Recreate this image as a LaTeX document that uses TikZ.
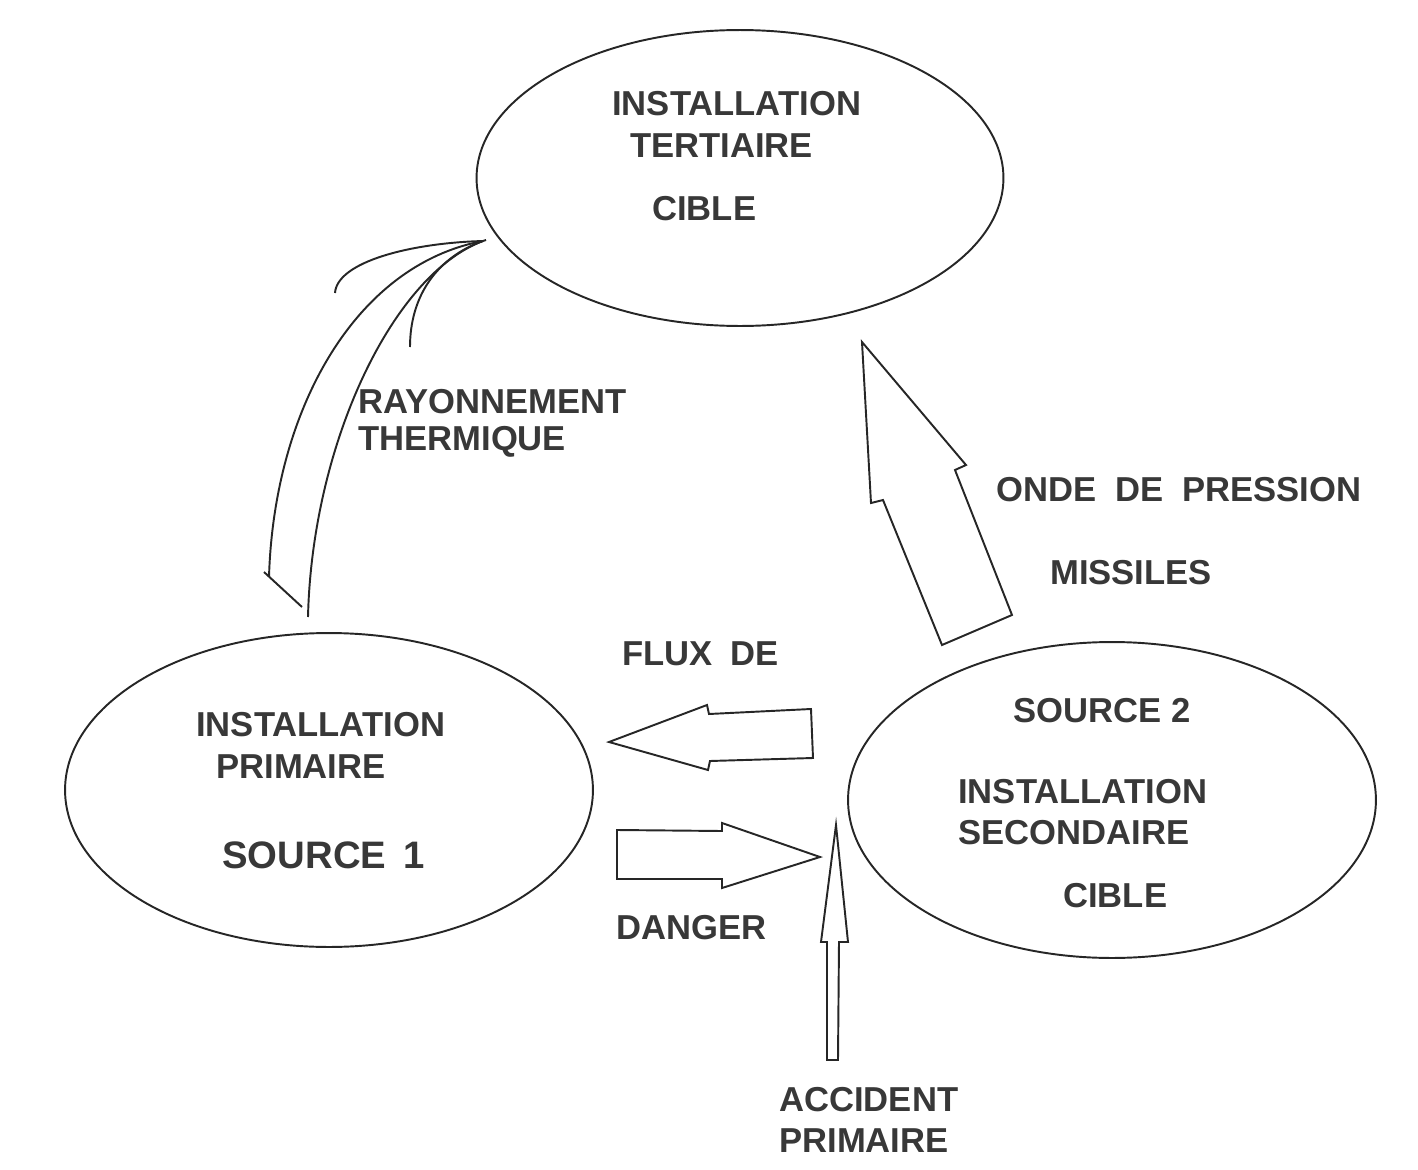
\documentclass[tikz,border=0pt]{standalone}
\usepackage{fontspec}
\setmainfont{Liberation Sans}
\usetikzlibrary{shapes.geometric}
\begin{document}
\begin{tikzpicture}[x=0.02cm,y=-0.02cm,
  ink/.style={draw=black!85,line width=1.1pt,line join=miter},
  ell/.style={ellipse,draw=black!85,line width=1.1pt,inner sep=0},
  lbl/.style={font=\fontsize{19.7}{22}\selectfont\bfseries,text=black!78,anchor=west,inner sep=0},
  biglbl/.style={lbl,font=\fontsize{21.8}{24}\selectfont\bfseries}]
\useasboundingbox (0,0) rectangle (1418,1170);
% ellipses
\node[ell,minimum width=10.54cm,minimum height=5.92cm] (tert) at (740,178) {};
\node[ell,minimum width=10.56cm,minimum height=6.28cm] (prim) at (329,790) {};
\node[ell,minimum width=10.56cm,minimum height=6.32cm] (sec) at (1112,800) {};
% texts top
\node[lbl] (t1) at (612,104) {INSTALLATION};
\node[lbl] (t2) at (630,146) {TERTIAIRE};
\node[lbl] (t3) at (652,209) {CIBLE};
% texts left
\node[lbl] (p1) at (196,725) {INSTALLATION};
\node[lbl] (p2) at (216,767) {PRIMAIRE};
\node[biglbl] (p3) at (222,855) {SOURCE\hspace{0.45em}1};
% texts right
\node[lbl] (s1) at (1013,711) {SOURCE 2};
\node[lbl] (s2) at (958,792) {INSTALLATION};
\node[lbl] (s3) at (958,833) {SECONDAIRE};
\node[lbl] (s4) at (1063,896) {CIBLE};
% other labels
\node[lbl] (r1) at (358,402) {RAYONNEMENT};
\node[lbl] (r2) at (358,442) {THERMIQUE};
\node[lbl] (o1) at (996,490) {ONDE\hspace{0.55em}DE\hspace{0.55em}PRESSION};
\node[lbl] (o2) at (1050,573) {MISSILES};
\node[lbl] (f1) at (622,654) {FLUX\hspace{0.5em}DE};
\node[lbl] (d1) at (616,928) {DANGER};
\node[lbl] (a1) at (779,1100) {ACCIDENT};
\node[lbl] (a2) at (779,1141) {PRIMAIRE};
% block arrows
\draw[ink] (609,742) -- (707,705) -- (709,714) -- (811,709) -- (813,758) -- (710,761) -- (708,770) -- cycle;
\draw[ink] (617,830) -- (722,831) -- (722,823) -- (820,857) -- (722,888) -- (722,879) -- (617,879) -- cycle;
\draw[ink] (836,825) -- (848,942) -- (839,942) -- (838,1060) -- (827,1060) -- (827,942) -- (821,942) -- cycle;
\draw[ink] (862,342) -- (966,465) -- (955,470) -- (1012,615) -- (942,645) -- (883,500) -- (871,503) -- cycle;
% thermal radiation rays
\coordinate (fx) at (483,241);
\draw[ink] (269,577) .. controls (274,410) and (355,265) .. (fx);
\draw[ink] (264,572) -- (302,607);
\draw[ink] (308,617) .. controls (312,445) and (392,275) .. (fx);
\draw[ink] (335,293) .. controls (337,262) and (410,243) .. (fx);
\draw[ink] (410,347) .. controls (410,295) and (438,257) .. (fx);
\draw[ink] (fx) -- (486,240);
\end{tikzpicture}
\end{document}
